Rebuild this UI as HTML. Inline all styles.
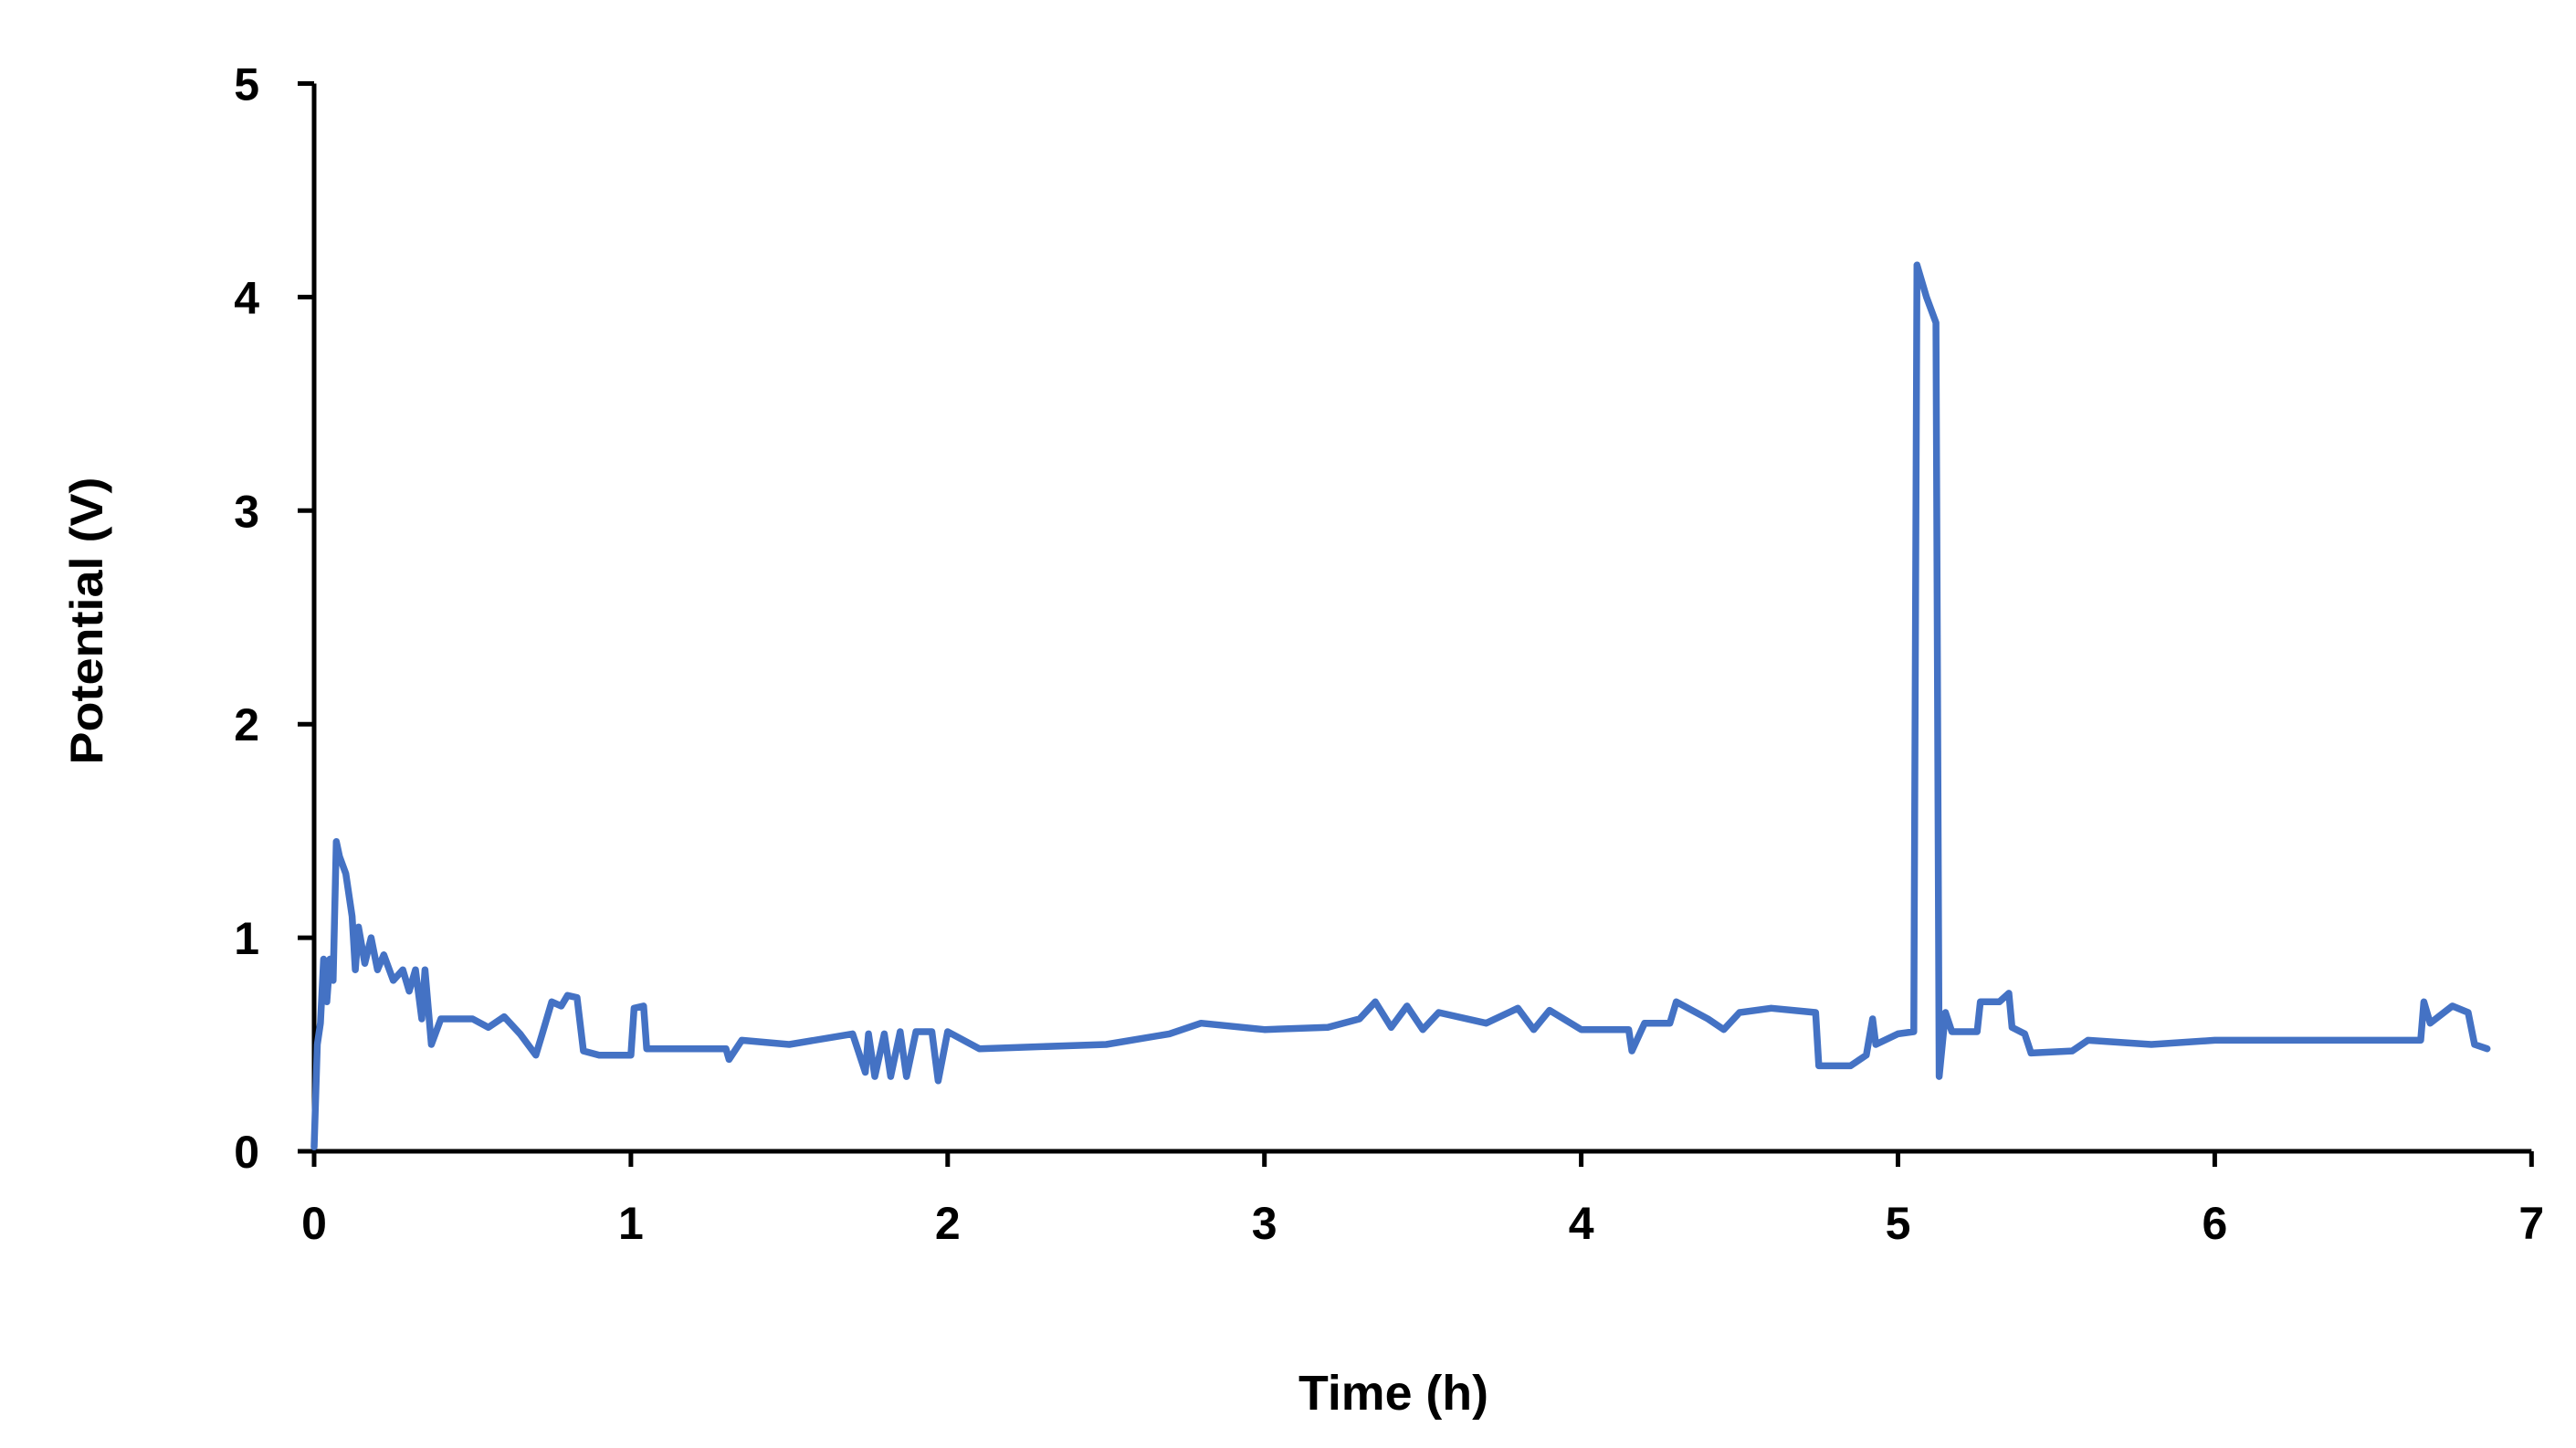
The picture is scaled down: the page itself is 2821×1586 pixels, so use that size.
<!DOCTYPE html>
<html><head><meta charset="utf-8"><style>
html,body{margin:0;padding:0;background:#fff;}
svg{display:block;}
text{font-family:"Liberation Sans",sans-serif;font-weight:bold;fill:#000;}
</style></head><body>
<svg id="chart" width="2821" height="1586" viewBox="0 0 2821 1586" xmlns="http://www.w3.org/2000/svg">
<g id="axes"></g>
<path id="series" fill="none" stroke="#4472C4" stroke-width="7.5" stroke-linejoin="round" stroke-linecap="round"/>
<text x="0" y="0" transform="translate(112,680) rotate(-90)" text-anchor="middle" font-size="50" textLength="315" lengthAdjust="spacingAndGlyphs">Potential (V)</text>
<text x="1526" y="1544" text-anchor="middle" font-size="54" textLength="208" lengthAdjust="spacingAndGlyphs">Time (h)</text>
</svg>
<script>
const xTicks = [0,1,2,3,4,5,6,7];
const yTicks = [0,1,2,3,4,5];
const times = [0,0.01,0.02,0.03,0.04,0.05,0.06,0.07,0.08,0.1,0.12,0.13,0.14,0.16,0.18,0.2,0.22,0.25,0.28,0.3,0.32,0.34,0.35,0.37,0.4,0.5,0.55,0.6,0.65,0.7,0.72,0.75,0.78,0.8,0.83,0.85,0.9,1.0,1.01,1.04,1.05,1.3,1.31,1.35,1.5,1.7,1.74,1.75,1.77,1.8,1.82,1.85,1.87,1.9,1.95,1.97,2.0,2.1,2.5,2.7,2.8,3.0,3.2,3.3,3.35,3.4,3.45,3.5,3.55,3.7,3.8,3.85,3.9,4.0,4.15,4.16,4.2,4.28,4.3,4.4,4.45,4.5,4.6,4.74,4.75,4.85,4.9,4.92,4.93,5.0,5.05,5.06,5.09,5.12,5.13,5.15,5.17,5.25,5.26,5.32,5.35,5.36,5.4,5.42,5.55,5.6,5.8,6.0,6.65,6.66,6.68,6.75,6.8,6.82,6.86];
const volts = [0.02,0.5,0.6,0.9,0.7,0.9,0.8,1.45,1.38,1.3,1.1,0.85,1.05,0.88,1.0,0.85,0.92,0.8,0.85,0.75,0.85,0.62,0.85,0.5,0.62,0.62,0.58,0.63,0.55,0.45,0.55,0.7,0.68,0.73,0.72,0.47,0.45,0.45,0.67,0.68,0.48,0.48,0.43,0.52,0.5,0.55,0.37,0.55,0.35,0.55,0.35,0.56,0.35,0.56,0.56,0.33,0.56,0.48,0.5,0.55,0.6,0.57,0.58,0.62,0.7,0.58,0.68,0.57,0.65,0.6,0.67,0.57,0.66,0.57,0.57,0.47,0.6,0.6,0.7,0.62,0.57,0.65,0.67,0.65,0.4,0.4,0.45,0.62,0.5,0.55,0.56,4.15,4.0,3.88,0.35,0.65,0.56,0.56,0.7,0.7,0.74,0.58,0.55,0.46,0.47,0.52,0.5,0.52,0.52,0.7,0.6,0.68,0.65,0.5,0.48];
const X0=344, XU=346.9, Y0=1261, YU=233.9;
function xs(t){return X0+t*XU;}
function ys(v){return Y0-v*YU;}
const NS="http://www.w3.org/2000/svg";
const axes=document.getElementById('axes');
function mk(tag,attrs){const e=document.createElementNS(NS,tag);for(const k in attrs)e.setAttribute(k,attrs[k]);axes.appendChild(e);return e;}
let l=mk('line',{x1:xs(0),y1:ys(0),x2:xs(7),y2:ys(0),stroke:'#000','stroke-width':5});


l=mk('line',{x1:xs(0),y1:ys(0)+2,x2:xs(0),y2:ys(5),stroke:'#000','stroke-width':5});


xTicks.forEach(t=>{
  const tk=mk('line',{x1:xs(t),y1:ys(0),x2:xs(t),y2:ys(0)+17,stroke:'#000','stroke-width':5});
  
  
  const tx=mk('text',{x:xs(t),y:1357,'text-anchor':'middle','font-size':50});
  tx.textContent=t;
  
  
});
yTicks.forEach(v=>{
  const tk=mk('line',{x1:xs(0)-18,y1:ys(v),x2:xs(0),y2:ys(v),stroke:'#000','stroke-width':5});
  
  
  const tx=mk('text',{x:284,y:ys(v)+18,'text-anchor':'end','font-size':50});
  tx.textContent=v;
  
  
});
let d='';
times.forEach((t,i)=>{d+=(i?'L':'M')+xs(t).toFixed(1)+','+ys(volts[i]).toFixed(1);});
document.getElementById('series').setAttribute('d',d);
</script>
</body></html>
